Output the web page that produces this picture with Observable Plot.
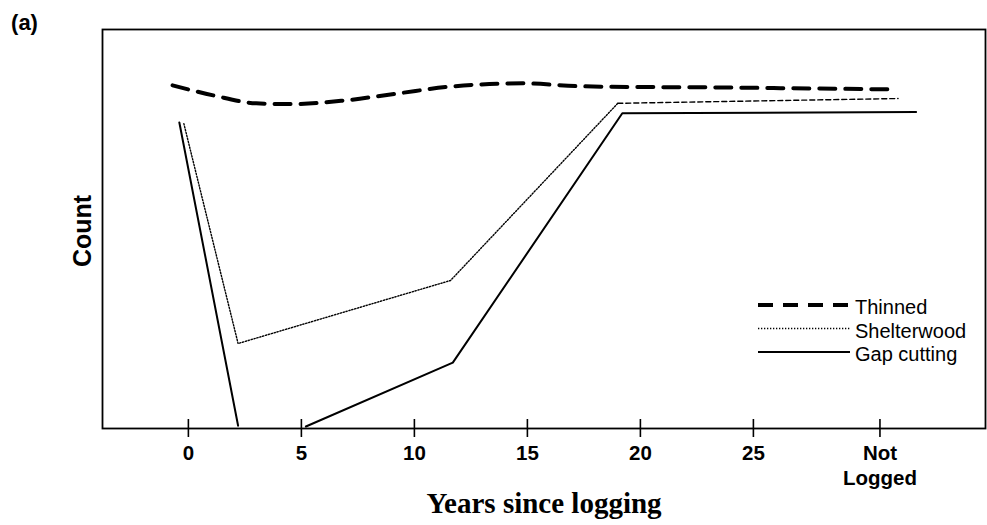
<!DOCTYPE html>
<html>
<head>
<meta charset="utf-8">
<script src="https://cdn.jsdelivr.net/npm/d3@7"></script>
<script src="https://cdn.jsdelivr.net/npm/@observablehq/plot@0.6"></script>
<style>
  html, body { margin: 0; padding: 0; background: #fff; }
  #wrap { position: relative; width: 987px; height: 525px; }
  #wrap svg { position: absolute; left: 0; top: 0; }
  g[aria-label="x-axis tick label"] text { font-weight: bold; }
</style>
</head>
<body>
<div id="wrap"></div>
<script>
// ---- data ----
const xTicks = [0, 5, 10, 15, 20, 25, 30.6];
const xTickLabels = ["0", "5", "10", "15", "20", "25", "Not\nLogged"];

const thinnedX = [-0.7, 1.1, 3.0, 4.6, 6.9, 9.3, 11.6, 14.8, 17.2, 19.6, 23.2, 26.2, 31.1];
const thinnedY = [86.0, 83.5, 81.5, 81.3, 82.2, 84.0, 85.7, 86.5, 85.8, 85.6, 85.5, 85.3, 85.0];

const shelterX = [-0.2, 2.2, 11.6, 19.0, 31.4];
const shelterY = [76.4, 21.3, 37.1, 81.5, 82.7];

const gapX = [-0.4, 2.2, 3.5, 5.2, 11.7, 19.2, 32.2];
const gapY = [76.7, 0.7, null, 0.5, 16.5, 79.0, 79.3];

const seriesNames = ["Thinned", "Shelterwood", "Gap cutting"];

// ---- build tables ----
const thinned = thinnedX.map((x, i) => ({x, y: thinnedY[i]}));
const shelter = shelterX.map((x, i) => ({x, y: shelterY[i]}));
const gap = gapX.map((x, i) => ({x, y: gapY[i]}));
const labelOf = new Map(xTicks.map((t, i) => [t, xTickLabels[i]]));

const sans = "Liberation Sans, Arial, sans-serif";
const serif = "Liberation Serif, Times New Roman, serif";

const chart = Plot.plot({
  width: 987,
  height: 525,
  marginLeft: 102,
  marginRight: 2,
  marginTop: 29,
  marginBottom: 97,
  style: {fontFamily: sans, background: "white", color: "black"},
  x: {domain: [-3.8, 35.27], axis: null},
  y: {domain: [0, 100], axis: null},
  marks: [
    Plot.frame({stroke: "black", strokeWidth: 1.8}),
    Plot.ruleX(xTicks, {x: d => d, y1: -2.25, y2: 2.25, stroke: "black", strokeWidth: 1.6}),
    Plot.axisX(xTicks, {
      tickSize: 0, tickPadding: 13, label: null,
      tickFormat: d => labelOf.get(d),
      fontSize: 20.5, fontWeight: "bold", lineHeight: 1.25, fill: "black"
    }),
    Plot.line(thinned, {x: "x", y: "y", curve: "monotone-x", stroke: "black", strokeWidth: 4, strokeDasharray: "16,10"}),
    Plot.line(shelter.filter(d => d.x <= 19), {x: "x", y: "y", stroke: "black", strokeWidth: 1.4, strokeDasharray: "1.3,1.7"}),
    Plot.line(shelter.filter(d => d.x >= 19), {x: "x", y: "y", stroke: "black", strokeWidth: 1.4, strokeDasharray: "5,3"}),
    Plot.line(gap, {x: "x", y: "y", stroke: "black", strokeWidth: 2}),
    Plot.text(["(a)"], {frameAnchor: "top-left", dx: -78, dy: -7, textAnchor: "middle", lineAnchor: "middle", fontSize: 22, fontWeight: "bold", fill: "black"}),
    Plot.text(["Count"], {frameAnchor: "left", dx: -20, dy: 2, rotate: -90, textAnchor: "middle", lineAnchor: "middle", fontSize: 25, fontWeight: "bold", fill: "black"}),
    Plot.text(["Years since logging"], {frameAnchor: "bottom", dy: 75, textAnchor: "middle", lineAnchor: "middle", fontSize: 29, fontWeight: "bold", fontFamily: serif, fill: "black"})
  ]
});
document.getElementById("wrap").appendChild(chart);

// ---- legend (overlay) ----
const legendStyles = [
  {w: 4, dash: "15,10"},
  {w: 1.3, dash: "1.3,1.7"},
  {w: 1.8, dash: null}
];
const legend = d3.select("#wrap").append("svg")
  .attr("width", 987).attr("height", 525)
  .style("pointer-events", "none");
const lg = legend.append("g").attr("transform", "translate(758,305)");
seriesNames.forEach((name, i) => {
  const yy = i * 23.5;
  const s = legendStyles[i];
  lg.append("line").attr("x1", 0).attr("x2", 92).attr("y1", yy).attr("y2", yy)
    .attr("stroke", "black").attr("stroke-width", s.w)
    .attr("stroke-dasharray", s.dash);
  lg.append("text").attr("x", 97).attr("y", yy + 2).attr("dy", "0.35em")
    .attr("font-family", sans).attr("font-size", 20).attr("fill", "black")
    .text(name);
});
</script>
</body>
</html>
